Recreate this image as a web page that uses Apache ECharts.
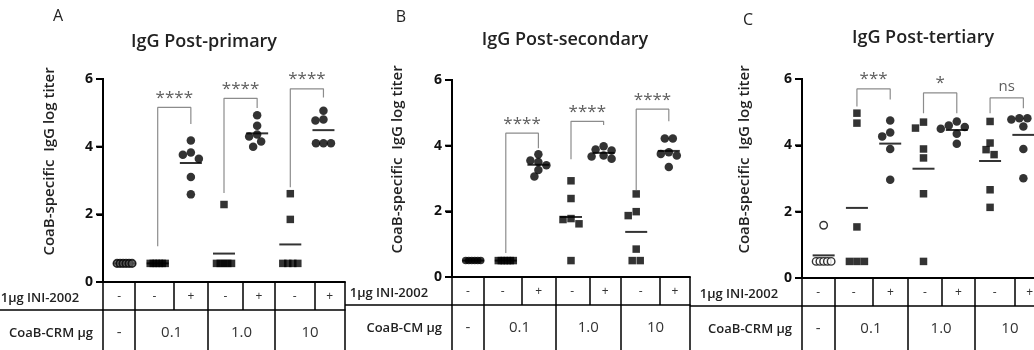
<!DOCTYPE html>
<html><head><meta charset="utf-8">
<script src="https://cdn.jsdelivr.net/npm/echarts@6/dist/echarts.min.js"></script>
<style>html,body{margin:0;padding:0;background:#fff}#c{width:1034px;height:350px}</style>
</head><body><div id="c"></div>
<script>
// ---------- DATA ----------
const groups = ['control', '0.1 -', '0.1 +', '1.0 -', '1.0 +', '10 -', '10 +'];
const rowINI = ['-', '-', '+', '-', '+', '-', '+'];
const rowCRM = ['-', '0.1', '1.0', '10'];
const titles = ['IgG Post-primary', 'IgG Post-secondary', 'IgG Post-tertiary'];
const letters = ['A', 'B', 'C'];
const iniLabel = '1μg INI-2002';
const crmLabels = ['CoaB-CRM μg', 'CoaB-CM μg', 'CoaB-CRM μg'];
const yName = 'CoaB-specific  IgG log titer';
const yTicks = [0, 2, 4, 6];

// log titers per group (control, 0.1-, 0.1+, 1.0-, 1.0+, 10-, 10+)
const primary = [
  [0.55, 0.55, 0.55, 0.55, 0.55, 0.55],
  [0.55, 0.55, 0.55, 0.55, 0.55, 0.55],
  [4.18, 3.83, 3.76, 3.64, 3.10, 2.59],
  [2.29, 0.55, 0.55, 0.55, 0.55, 0.55],
  [4.93, 4.62, 4.36, 4.30, 4.15, 4.00],
  [2.61, 1.85, 0.55, 0.55, 0.55, 0.55],
  [5.06, 4.80, 4.77, 4.10, 4.10, 4.10]
];
const secondary = [
  [0.5, 0.5, 0.5, 0.5, 0.5, 0.5],
  [0.5, 0.5, 0.5, 0.5, 0.5, 0.5],
  [3.74, 3.55, 3.50, 3.40, 3.26, 3.06],
  [2.93, 2.39, 1.78, 1.75, 1.62, 0.5],
  [3.98, 3.88, 3.85, 3.70, 3.67, 3.60],
  [2.53, 1.99, 1.87, 0.85, 0.5, 0.5],
  [4.22, 4.22, 3.80, 3.75, 3.70, 3.35]
];
const tertiary = [
  [1.59, 0.5, 0.5, 0.5, 0.5, 0.5],
  [4.97, 4.67, 1.54, 0.5, 0.5, 0.5],
  [4.75, 4.39, 4.27, 3.89, 2.96],
  [4.70, 4.52, 3.89, 3.62, 2.54, 0.5],
  [4.72, 4.60, 4.55, 4.50, 4.35, 4.05],
  [4.72, 4.07, 3.87, 3.72, 2.66, 2.13],
  [4.82, 4.82, 4.78, 4.57, 3.89, 3.01]
];

// significance brackets: pairs (1,2), (3,4), (5,6)
const sigLabelsA = ['****', '****', '****'];
const sigTopA = [5.16, 5.43, 5.71];
const sigLeftEndA = [1.06, 2.63, 2.80];
const sigRightEndA = [4.67, 5.14, 5.45];

const sigLabelsB = ['****', '****', '****'];
const sigTopB = [4.38, 4.74, 5.11];
const sigLeftEndB = [0.73, 3.59, 2.65];
const sigRightEndB = [3.92, 4.63, 4.74];

const sigLabelsC = ['***', '*', 'ns'];
const sigTopC = [5.70, 5.58, 5.43];
const sigLeftEndC = [5.17, 4.97, 4.97];
const sigRightEndC = [5.38, 4.97, 5.12];

// ---------- LAYOUT ----------
const FONT = '"Open Sans", "Noto Sans", sans-serif';
const panels = [
  {px0: 0,   left: 103, width: 242, top: 79, y0: 282, titleX: 204, titleY: 42, letterX: 58,  letterY: 16, nameGap: 46},
  {px0: 345, left: 452, width: 238, top: 80, y0: 277, titleX: 565, titleY: 40, letterX: 401, letterY: 17, nameGap: 47},
  {px0: 690, left: 802, width: 243, top: 79, y0: 278, titleX: 923, titleY: 38, letterX: 748, letterY: 20, nameGap: 50}
];
const XMIN = -0.65, XMAX = 6.65;
const cellEdges = [-0.65, 0.32, 1.49, 2.52, 3.56, 4.54, 5.73, 6.65];
const groupEdges = [-0.65, 0.32, 2.52, 4.54, 6.65];
const ROW_H = 28;
const TICK_LEN = 6;
const ctrlStyles = [
  {color: '#555', borderColor: '#000', borderWidth: 1.6},
  {color: '#000'},
  {color: '#fff', borderColor: '#000', borderWidth: 1.4}
];

const panelData = [primary, secondary, tertiary];
const sigs = [
  [sigLabelsA, sigTopA, sigLeftEndA, sigRightEndA],
  [sigLabelsB, sigTopB, sigLeftEndB, sigRightEndB],
  [sigLabelsC, sigTopC, sigLeftEndC, sigRightEndC]
];

const mids = a => a.slice(0, -1).map((v, i) => +((v + a[i + 1]) / 2).toFixed(4));
const row1Pos = mids(cellEdges);
const row2Pos = mids(groupEdges);
const lookup = (pos, labels) => v => { const i = pos.findIndex(p => Math.abs(p - v) < 1e-3); return i < 0 ? '' : labels[i]; };

// simple beeswarm: horizontal offsets (in axis units) derived from values
function swarm(vals, kx, ky, D) {
  const out = new Array(vals.length).fill(0);
  const placed = [];
  const counts = {};
  vals.forEach(v => counts[v] = (counts[v] || 0) + 1);
  Object.keys(counts).forEach(k => {
    const n = counts[k]; if (n < 2) return;
    const v = +k, sp = Math.min(D, 15 / (n - 1));
    let j = 0;
    vals.forEach((vv, i) => { if (vv === v) { const dx = (j - (n - 1) / 2) * sp; out[i] = dx; placed.push({x: dx, y: v * ky}); j++; } });
  });
  vals.forEach((v, i) => {
    if (counts[v] >= 2) return;
    const y = v * ky;
    for (let k = 0; k < 40; k++) {
      const m = Math.ceil(k / 2) * (k % 2 ? -1 : 1) * D / 2;
      if (placed.every(p => Math.hypot(p.x - m, p.y - y) >= D * 0.95)) { out[i] = m; placed.push({x: m, y}); break; }
    }
  });
  return out.map(px => px / kx);
}

const grid = [], xAxis = [], yAxis = [], series = [], graphic = [];

panels.forEach((P, p) => {
  grid.push({left: P.left, width: P.width, top: P.top, height: P.y0 - P.top, outerBoundsMode: 'none', containLabel: false});
  const kx = P.width / (XMAX - XMIN), ky = (P.y0 - P.top) / 6;

  xAxis.push({
    gridIndex: p, type: 'value', min: XMIN, max: XMAX, position: 'bottom',
    axisLine: {show: true, onZero: false, lineStyle: {color: '#000', width: 2}},
    axisTick: {show: true, customValues: cellEdges, length: ROW_H, lineStyle: {color: '#000', width: 1.5}},
    axisLabel: {customValues: row1Pos, formatter: lookup(row1Pos, rowINI), margin: 9, fontSize: 12, color: '#333', fontFamily: FONT},
    splitLine: {show: false},
    name: iniLabel, nameLocation: 'start', nameGap: 10,
    nameTextStyle: {fontSize: 13, fontWeight: 600, color: '#222', fontFamily: FONT, verticalAlign: 'top', lineHeight: ROW_H + 4}
  });
  xAxis.push({
    gridIndex: p, type: 'value', min: XMIN, max: XMAX, position: 'bottom', offset: ROW_H,
    axisLine: {show: true, onZero: false, lineStyle: {color: '#000', width: 1.5}},
    axisTick: {show: true, customValues: groupEdges, length: 50, lineStyle: {color: '#000', width: 1.5}},
    axisLabel: {customValues: row2Pos, formatter: lookup(row2Pos, rowCRM), margin: 15, fontSize: 15, color: '#333', fontFamily: FONT},
    splitLine: {show: false},
    name: crmLabels[p], nameLocation: 'start', nameGap: 10,
    nameTextStyle: {fontSize: 13, fontWeight: 600, color: '#222', fontFamily: FONT, verticalAlign: 'top', lineHeight: 46}
  });
  yAxis.push({
    gridIndex: p, type: 'value', min: yTicks[0], max: yTicks[yTicks.length - 1], interval: 2,
    axisLine: {show: true, onZero: false, lineStyle: {color: '#000', width: 2}},
    axisTick: {show: true, length: TICK_LEN, lineStyle: {color: '#000', width: 2}},
    axisLabel: {fontSize: 14, fontWeight: 'bold', color: '#111', margin: 10, fontFamily: FONT},
    splitLine: {show: false},
    name: yName, nameLocation: 'middle', nameGap: P.nameGap,
    nameTextStyle: {fontSize: 15, fontWeight: 600, color: '#222', fontFamily: FONT, padding: [0, 0, 0, 38]}
  });

  const xi = p * 2;
  const data = panelData[p];
  // mean lines
  series.push({
    type: 'scatter', xAxisIndex: xi, yAxisIndex: p, symbol: 'rect', symbolSize: [22, 2], z: 3, silent: true,
    itemStyle: {color: '#000'},
    data: data.map((vals, g) => [g, vals.reduce((a, b) => a + b, 0) / vals.length])
  });
  // points
  data.forEach((vals, g) => {
    const off = swarm(vals, kx, ky, 8);
    const isSq = g % 2 === 1;
    series.push({
      type: 'scatter', xAxisIndex: xi, yAxisIndex: p, z: 4, silent: true,
      symbol: isSq ? 'rect' : 'circle', symbolSize: isSq ? 7.5 : (g === 0 ? 7.5 : 8.5),
      itemStyle: g === 0 ? ctrlStyles[p] : {color: '#000'},
      data: vals.map((v, i) => [g + off[i], v])
    });
  });
  // brackets
  const [labs, tops, lEnd, rEnd] = sigs[p];
  labs.forEach((lab, b) => {
    const g1 = 2 * b + 1, g2 = 2 * b + 2;
    series.push({
      type: 'line', xAxisIndex: xi, yAxisIndex: p, symbol: 'none', silent: true, z: 2,
      lineStyle: {color: '#8c8c8c', width: 1.2},
      data: [[g1, lEnd[b]], [g1, tops[b]], [g2, tops[b]], [g2, rEnd[b]]]
    });
    series.push({
      type: 'scatter', xAxisIndex: xi, yAxisIndex: p, symbolSize: 0, silent: true, z: 3,
      label: {show: true, position: 'top', distance: lab === 'ns' ? 4 : 1, formatter: lab,
        fontSize: lab === 'ns' ? 15 : 17, color: '#333', fontFamily: FONT},
      data: [[(g1 + g2) / 2, tops[b]]]
    });
  });

  graphic.push({type: 'text', x: P.titleX, y: P.titleY, silent: true,
    style: {text: titles[p], font: '600 18px ' + FONT, fill: '#222', align: 'center', verticalAlign: 'middle', textAlign: 'center', textVerticalAlign: 'middle'}});
  graphic.push({type: 'text', x: P.letterX, y: P.letterY, silent: true,
    style: {text: letters[p], font: '400 16px ' + FONT, fill: '#222', align: 'center', verticalAlign: 'middle', textAlign: 'center', textVerticalAlign: 'middle'}});
  graphic.push({type: 'line', silent: true,
    shape: {x1: P.px0, y1: P.y0 + ROW_H, x2: P.left, y2: P.y0 + ROW_H},
    style: {stroke: '#000', lineWidth: 1.5}});
});

const chart = echarts.init(document.getElementById('c'), null, {renderer: 'canvas'});
chart.setOption({animation: false, backgroundColor: '#fff', grid, xAxis, yAxis, series, graphic});

// y-axis spine and tick marks as filled rectangles on a top layer, placed through the library's scale
const spine = [];
panels.forEach((P, p) => {
  const a = chart.convertToPixel({gridIndex: p}, [XMIN, yTicks[0]]);
  const b = chart.convertToPixel({gridIndex: p}, [XMIN, yTicks[yTicks.length - 1]]);
  spine.push({type: 'rect', silent: true, z: 100, zlevel: 1,
    shape: {x: a[0] - 1, y: b[1] - 1, width: 2, height: a[1] - b[1] + 2}, style: {fill: '#000'}});
  yTicks.forEach(t => {
    const q = chart.convertToPixel({gridIndex: p}, [XMIN, t]);
    spine.push({type: 'rect', silent: true, z: 100, zlevel: 1,
      shape: {x: q[0] - TICK_LEN - 1, y: q[1] - 1, width: TICK_LEN + 1, height: 2}, style: {fill: '#000'}});
  });
});
chart.setOption({graphic: graphic.concat(spine)});
</script></body></html>
